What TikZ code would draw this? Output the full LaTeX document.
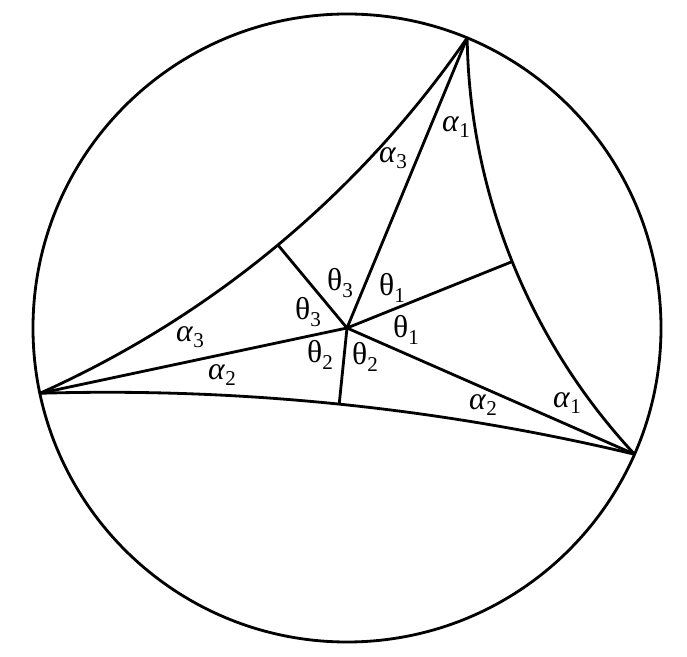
\documentclass[tikz,border=0pt]{standalone}
\usepackage{fontspec}
\setmainfont{Liberation Serif}
\usetikzlibrary{calc}

\newcommand{\R}{6.28}
% label with a subscript
\newcommand{\sub}[2]{#1\raisebox{-0.45ex}{\fontsize{12}{12}\selectfont\upshape #2}}
% side of the triangle: arc from (#1:\R) to (#2:\R), midpoint at distance #3, named #4
\newcommand{\sidearc}[4]{%
  \pgfmathsetmacro\gm{(#1+#2)/2}
  \pgfmathsetmacro\gd{(#2-#1)/2}
  \pgfmathsetmacro\halfc{\R*sin(\gd)}
  \pgfmathsetmacro\sagit{\R*cos(\gd)-#3}
  \pgfmathsetmacro\arcr{(\halfc*\halfc+\sagit*\sagit)/(2*\sagit)}
  \pgfmathsetmacro\arcphi{asin(\halfc/\arcr)}
  \coordinate (#4) at (\gm:#3);
  \draw (#1:\R) arc[start angle=\gm+180+\arcphi, end angle=\gm+180-\arcphi, radius=\arcr];
}

\tikzset{
  lbl/.style={font=\fontsize{18}{20}\selectfont, inner sep=0pt}
}

\begin{document}
\begin{tikzpicture}[line width=1.6pt]
    \useasboundingbox (-6.94,-6.58) rectangle (6.80,6.56);

    % disc and vertices
    \coordinate (O) at (0,0);
    \coordinate (A) at (67.5:\R);
    \coordinate (B) at (192:\R);
    \coordinate (C) at (-23.7:\R);
    \draw (O) circle[radius=\R];

    % sides
    \sidearc{67.5}{192}{2.16}{mab}
    \sidearc{192}{336.3}{1.53}{mbc}
    \sidearc{-23.7}{67.5}{3.56}{mca}

    % segments from the centre
    \draw (O) -- (A);
    \draw (O) -- (B);
    \draw (O) -- (C);
    \draw (O) -- (mab);
    \draw (O) -- (mbc);
    \draw (O) -- (mca);

    % angles at the centre
    \node[lbl] (t3a) at (-0.14,0.90) {\sub{θ}{3}};
    \node[lbl] (t1a) at (0.90,0.80) {\sub{θ}{1}};
    \node[lbl] (t3b) at (-0.78,0.32) {\sub{θ}{3}};
    \node[lbl] (t1b) at (1.18,-0.04) {\sub{θ}{1}};
    \node[lbl] (t2a) at (-0.54,-0.54) {\sub{θ}{2}};
    \node[lbl] (t2b) at (0.36,-0.58) {\sub{θ}{2}};

    % angles at the vertices
    \node[lbl] (a1a) at (2.18,4.02) {\sub{\textit{α}}{1}};
    \node[lbl] (a3a) at (0.92,3.40) {\sub{\textit{α}}{3}};
    \node[lbl] (a3b) at (-3.14,-0.18) {\sub{\textit{α}}{3}};
    \node[lbl] (a2a) at (-2.50,-0.94) {\sub{\textit{α}}{2}};
    \node[lbl] (a2b) at (2.72,-1.54) {\sub{\textit{α}}{2}};
    \node[lbl] (a1b) at (4.40,-1.50) {\sub{\textit{α}}{1}};
\end{tikzpicture}
\end{document}
